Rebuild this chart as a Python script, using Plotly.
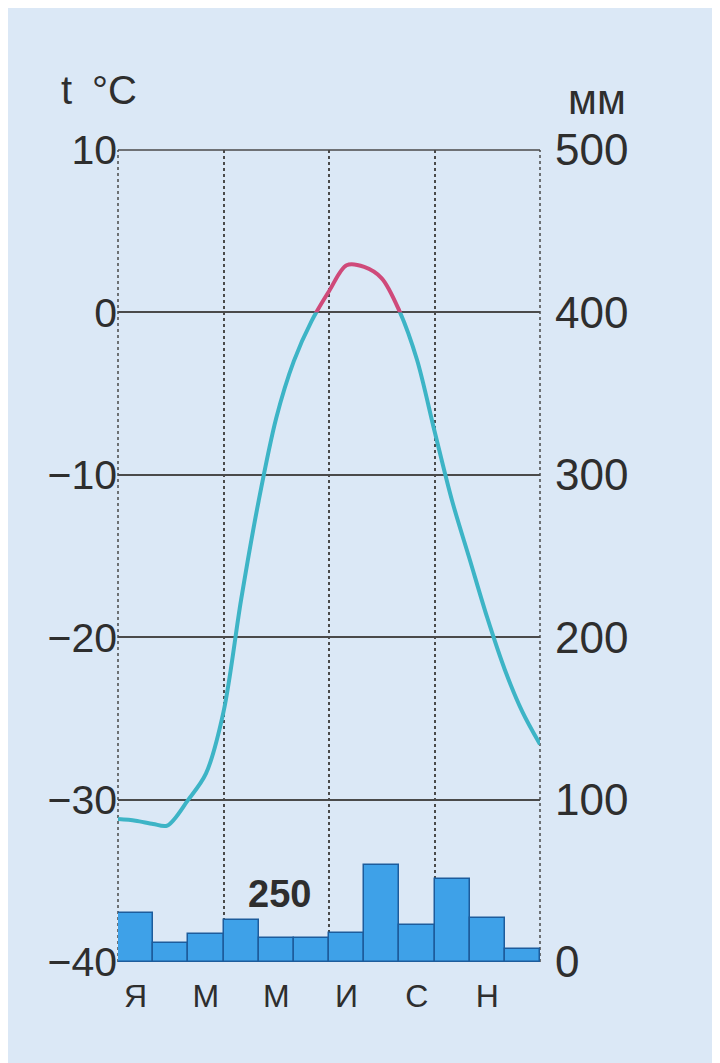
import plotly.graph_objects as go

# ---- data ----
month_pos = [1, 2, 3, 4, 5, 6, 7, 8, 9, 10, 11, 12]
month_ticks = [1, 3, 5, 7, 9, 11]
month_labels = ["Я", "М", "М", "И", "С", "Н"]
precip_mm = [30, 12, 17, 26, 15, 15, 18, 60, 23, 51, 27, 8]

# temperature curve (month position, °C)
temp_x = [0.5, 1, 1.5, 1.9, 2.5, 3, 3.5, 4, 4.5, 5, 5.5, 6, 6.5, 7, 7.5,
          8, 8.5, 9, 9.5, 10, 10.5, 11, 11.5, 12, 12.5]
temp_c = [-31.2, -31.3, -31.5, -31.6, -30.0, -28.4, -24.6, -17.7, -11.6, -6.5,
          -3.0, -0.55, 1.3, 2.9, 2.8, 2.1, 0.1, -2.9, -7.3, -11.6, -15.2, -18.8,
          -22.0, -24.6, -26.6]

temp_ticks = [-40, -30, -20, -10, 0, 10]
precip_ticks = [0, 100, 200, 300, 400, 500]
quarter_lines = [3.5, 6.5, 9.5]
annual_total = "250"

# ---- styling ----
BG = "#dbe8f6"
TXT = "#2e2e2e"
GRID = "#4a4a4a"
FONT = "Liberation Sans, Arial, sans-serif"
T_RANGE = [-40, 10]
ZERO_FRAC = (0 - T_RANGE[0]) / (T_RANGE[1] - T_RANGE[0])

fig = go.Figure()

# empty trace so the base temperature axis (ticks + grid) is drawn
fig.add_trace(go.Scatter(x=[None], y=[None], xaxis="x", yaxis="y",
                         showlegend=False, hoverinfo="skip"))

fig.add_trace(go.Bar(
    x=month_pos, y=precip_mm, width=1.0, yaxis="y2",
    marker=dict(color="#3ea1e8", line=dict(color="#1d5c9c", width=1.5)),
    showlegend=False, hoverinfo="skip",
))

# blue part (below 0) clipped by its own subplot, red part (above 0) by another
line_common = dict(width=4, shape="spline", smoothing=0.9)
fig.add_trace(go.Scatter(
    x=temp_x, y=temp_c, mode="lines", xaxis="x3", yaxis="y4",
    line=dict(color="#3db4c6", **line_common),
    showlegend=False, hoverinfo="skip",
))
fig.add_trace(go.Scatter(
    x=temp_x, y=temp_c, mode="lines", xaxis="x2", yaxis="y3",
    line=dict(color="#cf4a7a", **line_common),
    showlegend=False, hoverinfo="skip",
))

hidden = dict(visible=False, showgrid=False, zeroline=False, fixedrange=True)

frame = [
    dict(type="line", xref="x domain", yref="y domain", x0=0, x1=0, y0=0, y1=1,
         line=dict(color=GRID, width=1.5, dash="dot"), layer="below"),
    dict(type="line", xref="x domain", yref="y domain", x0=1, x1=1, y0=0, y1=1,
         line=dict(color=GRID, width=1.5, dash="dot"), layer="below"),
    dict(type="line", xref="x domain", yref="y domain", x0=0, x1=1, y0=1, y1=1,
         line=dict(color=GRID, width=1.5), layer="below"),
]

fig.update_layout(
    width=720, height=1063,
    margin=dict(l=110, r=188, t=142, b=109),
    paper_bgcolor=BG, plot_bgcolor="rgba(0,0,0,0)",
    font=dict(family=FONT, color=TXT),
    bargap=0,
    shapes=frame,
    xaxis=dict(
        range=[0.5, 12.5], domain=[0, 1], anchor="y",
        tickmode="array", tickvals=month_ticks, ticktext=month_labels,
        tickfont=dict(size=32, color=TXT), ticks="", ticklabelstandoff=12,
        showgrid=False, zeroline=False, showline=False,
        minor=dict(tickmode="array", tickvals=quarter_lines, showgrid=True,
                   gridcolor=GRID, gridwidth=1.5, griddash="dot", ticks=""),
    ),
    yaxis=dict(
        range=T_RANGE, domain=[0, 1], anchor="x",
        tickmode="array", tickvals=temp_ticks,
        tickfont=dict(size=41, color=TXT), ticks="", ticklabelstandoff=0,
        showgrid=True, gridcolor=GRID, gridwidth=1.6,
        zeroline=False, showline=False,
    ),
    yaxis2=dict(
        range=[0, 500], overlaying="y", side="right", anchor="x",
        tickmode="array", tickvals=precip_ticks,
        tickfont=dict(size=44, color=TXT), ticks="", ticklabelstandoff=14,
        showgrid=False, zeroline=False, showline=False,
    ),
    xaxis2=dict(range=[0.5, 12.5], domain=[0, 1], anchor="y3", **hidden),
    yaxis3=dict(range=[0, T_RANGE[1]], domain=[ZERO_FRAC, 1], anchor="x2", **hidden),
    xaxis3=dict(range=[0.5, 12.5], domain=[0, 1], anchor="y4", **hidden),
    yaxis4=dict(range=[T_RANGE[0], 0], domain=[0, ZERO_FRAC], anchor="x3", **hidden),
    annotations=[
        dict(text="t\u2002°C", xref="paper", yref="paper", x=-0.14, y=1.074,
             xanchor="left", yanchor="middle", showarrow=False,
             font=dict(size=40, color=TXT)),
        dict(text="мм", xref="paper", yref="paper", x=1.135, y=1.062,
             xanchor="center", yanchor="middle", showarrow=False,
             font=dict(size=42, color=TXT)),
        dict(text="<b>" + annual_total + "</b>", xref="x", yref="y2", x=5.1, y=42,
             xanchor="center", yanchor="middle", showarrow=False,
             font=dict(size=38, color=TXT)),
    ],
)

fig.write_html("out.html")
